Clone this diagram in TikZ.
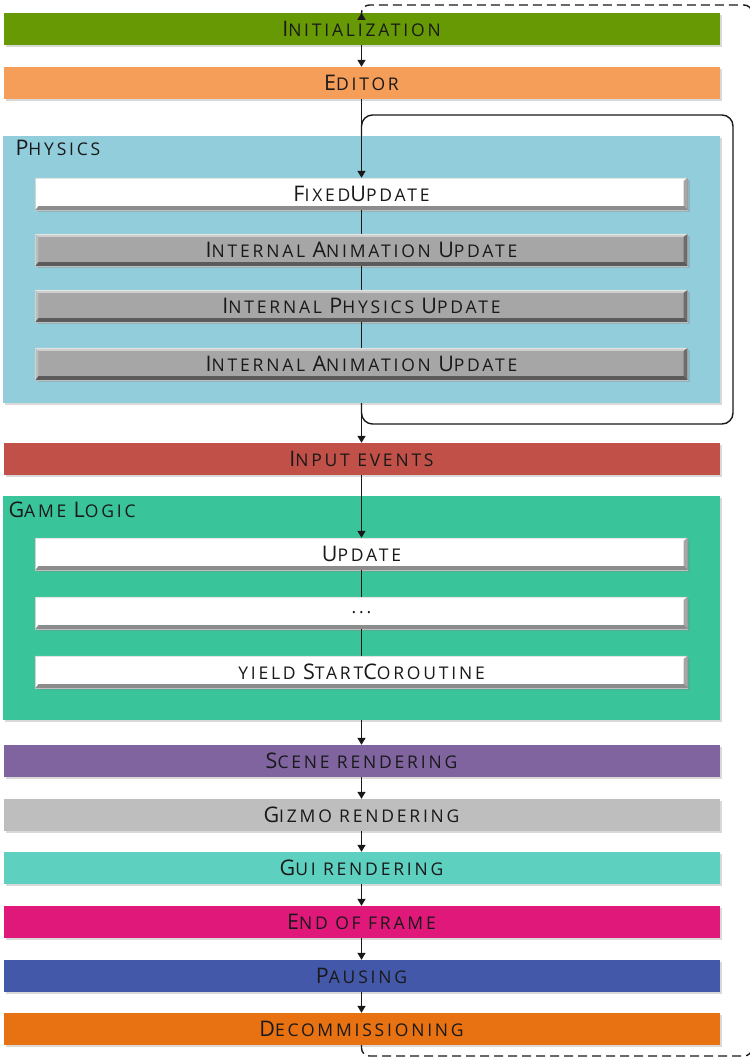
\documentclass[tikz,border=0pt]{standalone}
\usepackage{fontspec}
\setmainfont{Open Sans}
\newfontfamily\labfont[LetterSpace=16]{Open Sans}
\usetikzlibrary{arrows.meta,shadows,calc}
\newcommand\Bg[1]{{\fontsize{21.5}{21.5}\selectfont #1}}
\newcommand\Sm[1]{{\fontsize{17.5}{17.5}\selectfont\MakeUppercase{#1}}}
\definecolor{cInit}{RGB}{103,153,5}
\definecolor{cEdit}{RGB}{245,158,90}
\definecolor{cPhys}{RGB}{146,205,220}
\definecolor{cGray}{RGB}{166,166,166}
\definecolor{cInput}{RGB}{192,80,72}
\definecolor{cGame}{RGB}{58,196,154}
\definecolor{cScene}{RGB}{128,100,160}
\definecolor{cGizmo}{RGB}{190,190,190}
\definecolor{cGui}{RGB}{93,208,192}
\definecolor{cEof}{RGB}{224,24,122}
\definecolor{cPause}{RGB}{68,88,170}
\definecolor{cDecom}{RGB}{232,114,18}
\definecolor{cText}{RGB}{25,25,25}
\newcommand\bevel[1]{%
 \fill[white,opacity=.45] (#1.north west) -- (#1.north east) -- ($(#1.north east)+(-4pt,-3pt)$) -- ($(#1.north west)+(3pt,-3pt)$) -- cycle;
 \fill[white,opacity=.25] (#1.north west) -- ($(#1.north west)+(3pt,-3pt)$) -- ($(#1.south west)+(3pt,4pt)$) -- (#1.south west) -- cycle;
 \fill[black,opacity=.35] (#1.north east) -- (#1.south east) -- ($(#1.south east)+(-4pt,4pt)$) -- ($(#1.north east)+(-4pt,-3pt)$) -- cycle;
 \fill[black,opacity=.45] (#1.south west) -- (#1.south east) -- ($(#1.south east)+(-4pt,4pt)$) -- ($(#1.south west)+(3pt,4pt)$) -- cycle;
}
\tikzset{
 shad/.style={drop shadow={shadow xshift=2pt,shadow yshift=-2pt,opacity=0.3}},
 txt/.style={text=cText,font=\labfont\fontsize{17.5}{17.5}\selectfont},
 bar/.style={txt,shad,minimum width=716pt,minimum height=32pt,inner sep=0pt},
 inbox/.style={txt,shad,minimum width=652pt,minimum height=32pt,inner sep=0pt,draw=black!20,line width=0.4pt},
 cont/.style={shad,minimum width=717pt,inner sep=0pt},
 conn/.style={line width=1.4pt,draw=black!90},
 arr/.style={conn,-{Triangle[length=7pt,width=8pt]}},
}
\begin{document}
\begin{tikzpicture}[x=1pt,y=-1pt]
\useasboundingbox (0,0) rectangle (749,1059);
% bars
\node[bar,fill=cInit] (init) at (361.5,29) {\Bg{I}\Sm{nitialization}};
\node[bar,fill=cEdit] (editor) at (361.5,83) {\Bg{E}\Sm{ditor}};
% physics container
\node[cont,fill=cPhys,minimum height=267pt] (physics) at (361.5,269.5) {};
\node[txt,anchor=west] (physlbl) at (12,148) {\Bg{P}\Sm{hysics}};
\node[inbox,fill=white] (fixed) at (361.5,194) {\Bg{F}\Sm{ixed}\Bg{U}\Sm{pdate}};
\bevel{fixed}
\node[inbox,fill=cGray] (ianimA) at (361.5,250) {\Bg{I}\Sm{nternal} \Bg{A}\Sm{nimation} \Bg{U}\Sm{pdate}};
\bevel{ianimA}
\node[inbox,fill=cGray] (iphys) at (361.5,306) {\Bg{I}\Sm{nternal} \Bg{P}\Sm{hysics} \Bg{U}\Sm{pdate}};
\bevel{iphys}
\node[inbox,fill=cGray] (ianimB) at (361.5,364) {\Bg{I}\Sm{nternal} \Bg{A}\Sm{nimation} \Bg{U}\Sm{pdate}};
\bevel{ianimB}
% input
\node[bar,fill=cInput] (input) at (361.5,459) {\Bg{I}\Sm{nput events}};
% game logic container
\node[cont,fill=cGame,minimum height=224pt] (game) at (361.5,608) {};
\node[txt,anchor=west] (gamelbl) at (5,510) {\Bg{G}\Sm{ame} \Bg{L}\Sm{ogic}};
\node[inbox,fill=white] (update) at (361.5,554) {\Bg{U}\Sm{pdate}};
\bevel{update}
\node[inbox,fill=white] (dots) at (361.5,613) {\Sm{...}};
\bevel{dots}
\node[inbox,fill=white] (yield) at (361.5,672) {\Sm{yield} \Bg{S}\Sm{tart}\Bg{C}\Sm{oroutine}};
\bevel{yield}
% lower bars
\node[bar,fill=cScene] (scene) at (361.5,761) {\Bg{S}\Sm{cene rendering}};
\node[bar,fill=cGizmo] (gizmo) at (361.5,815) {\Bg{G}\Sm{izmo rendering}};
\node[bar,fill=cGui] (gui) at (361.5,868) {\Bg{G}\Sm{ui rendering}};
\node[bar,fill=cEof] (eof) at (361.5,922) {\Bg{E}\Sm{nd of frame}};
\node[bar,fill=cPause] (pause) at (361.5,976) {\Bg{P}\Sm{ausing}};
\node[bar,fill=cDecom] (decom) at (361.5,1029) {\Bg{D}\Sm{ecommissioning}};
% connectors
\draw[arr] (init.south) -- (editor.north);
\draw[arr] (editor.south) -- (fixed.north);
\draw[conn] (fixed.south) -- (ianimA.north);
\draw[conn] (ianimA.south) -- (iphys.north);
\draw[conn] (iphys.south) -- (ianimB.north);
\draw[arr] (physics.south) -- (input.north);
\draw[arr] (input.south) -- (update.north);
\draw[conn] (update.south) -- (dots.north);
\draw[conn] (dots.south) -- (yield.north);
\draw[arr] (game.south) -- (scene.north);
\draw[arr] (scene.south) -- (gizmo.north);
\draw[arr] (gizmo.south) -- (gui.north);
\draw[arr] (gui.south) -- (eof.north);
\draw[arr] (eof.south) -- (pause.north);
\draw[arr] (pause.south) -- (decom.north);
% physics loop
\coordinate (lpBR) at (733,424);
\coordinate (lpTR) at (733,115);
\draw[conn,rounded corners=11pt] (physics.south) |- (lpBR) -- (lpTR) -| (physics.north);
% frame loop
\coordinate (dBR) at (752,1056);
\coordinate (dTR) at (752,5);
\draw[arr,dash pattern=on 9pt off 5pt,rounded corners=8pt] (decom.south) |- (dBR) -- (dTR) -| (init.north);
\end{tikzpicture}
\end{document}
